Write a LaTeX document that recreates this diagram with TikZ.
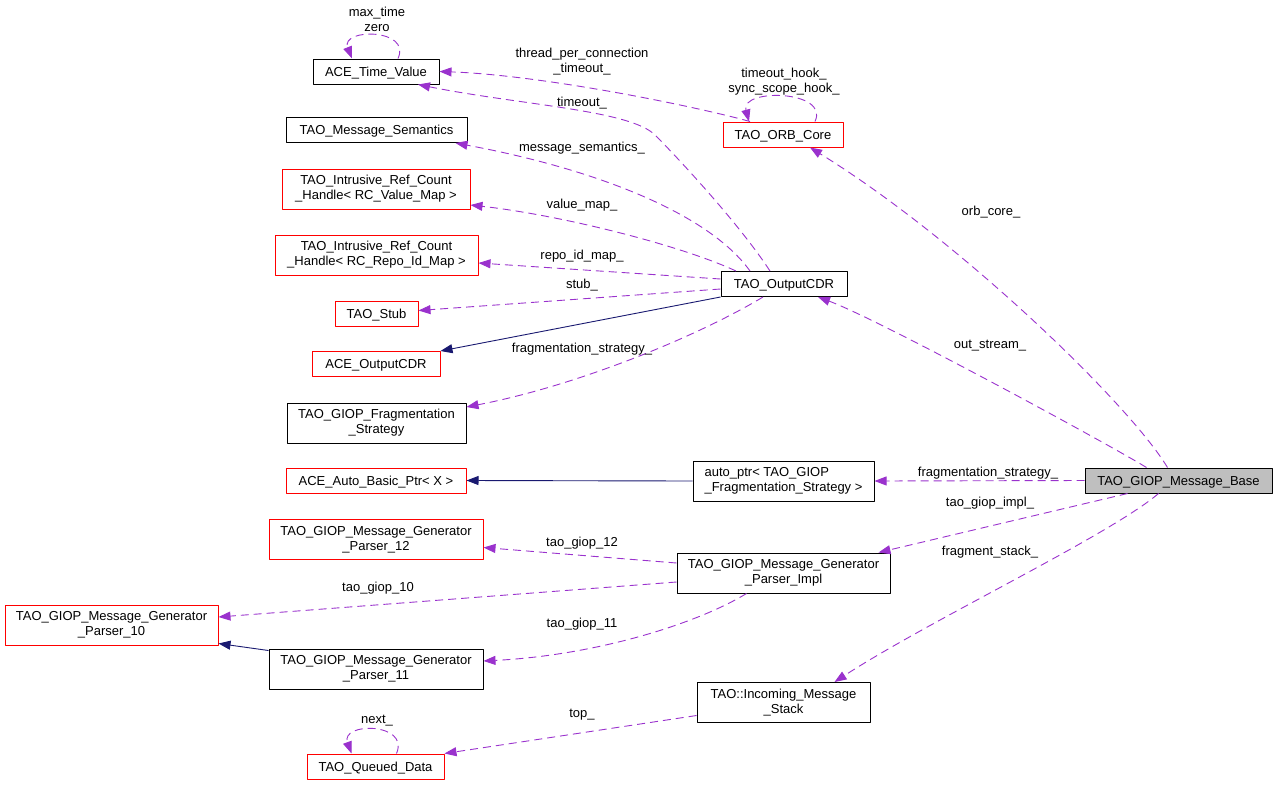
\documentclass[tikz,border=0pt]{standalone}
\usepackage{fontspec}
\setmainfont{Liberation Sans}
\usetikzlibrary{arrows.meta}
\definecolor{edgepurple}{HTML}{9A32CD}
\definecolor{edgenavy}{HTML}{191970}
\definecolor{boxgray}{HTML}{BFBFBF}
\begin{document}
\begin{tikzpicture}[x=1pt, y=-1pt, line join=round,
		cls/.style={draw=black, fill=white, line width=1pt, inner xsep=2pt, inner ysep=2pt, minimum height=25pt, text height=9.8pt, text depth=0pt, align=center, font=\fontsize{13}{15}\selectfont},
		redcls/.style={cls, draw=red},
		dbl/.style={minimum height=40pt, text height={}, text depth={}},
		lbl/.style={inner sep=0pt, align=center, font=\fontsize{13}{15}\selectfont},
		member/.style={draw=edgepurple, line width=0.9pt, dash pattern=on 8pt off 5pt, -{Triangle[length=12pt,width=9pt]}},
		base/.style={draw=edgenavy, line width=0.9pt, -{Triangle[length=12pt,width=9pt]}}]
		\useasboundingbox (0,0) rectangle (1277,785);
		% classes, left column
		\node[cls, minimum width=126pt] (tv) at (376,71.5) {ACE\_Time\_Value};
		\node[cls, minimum width=181pt] (ms) at (376.5,130) {TAO\_Message\_Semantics};
		\node[redcls, dbl, minimum width=188pt] (vmap) at (376,189) {TAO\_Intrusive\_Ref\_Count\\\_Handle< RC\_Value\_Map >};
		\node[redcls, dbl, minimum width=203pt] (rmap) at (376.5,255) {TAO\_Intrusive\_Ref\_Count\\\_Handle< RC\_Repo\_Id\_Map >};
		\node[redcls, minimum width=83pt] (stub) at (376.5,313.5) {TAO\_Stub};
		\node[redcls, minimum width=128pt] (acecdr) at (376,364) {ACE\_OutputCDR};
		\node[cls, dbl, minimum width=179pt] (frag) at (376.5,423) {TAO\_GIOP\_Fragmentation\\\_Strategy};
		\node[redcls, minimum width=180pt] (abp) at (376,480.5) {ACE\_Auto\_Basic\_Ptr< X >};
		\node[redcls, dbl, minimum width=214pt] (p12) at (376,539.5) {TAO\_GIOP\_Message\_Generator\\\_Parser\_12};
		\node[redcls, dbl, minimum width=213pt] (p10) at (111.5,625) {TAO\_GIOP\_Message\_Generator\\\_Parser\_10};
		\node[cls, dbl, minimum width=214pt] (p11) at (376,669) {TAO\_GIOP\_Message\_Generator\\\_Parser\_11};
		\node[redcls, minimum width=137pt] (qd) at (375.5,766.5) {TAO\_Queued\_Data};
		% classes, middle column
		\node[redcls, minimum width=120pt] (orb) at (783,134.5) {TAO\_ORB\_Core};
		\node[cls, minimum width=126pt] (cdr) at (784,284) {TAO\_OutputCDR};
		\node[cls, dbl, minimum width=181pt, align=left] (ap) at (783.5,481) {auto\_ptr< TAO\_GIOP\\\_Fragmentation\_Strategy >};
		\node[cls, dbl, minimum width=213pt] (impl) at (783.5,573) {TAO\_GIOP\_Message\_Generator\\\_Parser\_Impl};
		\node[cls, dbl, minimum width=173pt] (ims) at (783.5,702.5) {TAO::Incoming\_Message\\\_Stack};
		% the class itself
		\node[cls, fill=boxgray, minimum width=187pt] (mb) at (1178.5,480.5) {TAO\_GIOP\_Message\_Base};

		% members of TAO_GIOP_Message_Base
		\draw[member] ([xshift=-11pt]mb.north) .. controls (1130,405) and (960,240) .. ([xshift=27pt]orb.south);
		\draw[member] ([xshift=-32pt]mb.north) .. controls (1110,445) and (880,320) .. ([xshift=34pt]cdr.south);
		\draw[member] (mb.west) -- (ap.east);
		\draw[member] ([xshift=-51pt]mb.south) -- ([xshift=95pt]impl.north);
		\draw[member] ([xshift=-20pt]mb.south) .. controls (1110,535) and (930,620) .. ([xshift=51pt]ims.north);
		\node[lbl] (lorb) at (991,212) {orb\_core\_};
		\node[lbl] (lout) at (990,346) {out\_stream\_};
		\node[lbl] (lfs) at (988,473) {fragmentation\_strategy\_};
		\node[lbl] (limpl) at (990,503) {tao\_giop\_impl\_};
		\node[lbl] (lstack) at (990,552) {fragment\_stack\_};

		% TAO_ORB_Core
		\draw[member] ([xshift=-33pt]orb.north) .. controls (690,105) and (540,75) .. (tv.east);
		\draw[member] ([xshift=32pt]orb.north) .. controls (830,90) and (740,88) .. ([xshift=-34pt]orb.north);
		\node[lbl] (ltpc) at (582,62) {thread\_per\_connection\\\_timeout\_};
		\node[lbl] (lhook) at (784,82) {timeout\_hook\_\\sync\_scope\_hook\_};

		% ACE_Time_Value
		\draw[member] ([xshift=22pt]tv.north) .. controls (412,28) and (340,28) .. ([xshift=-24pt]tv.north);
		\node[lbl] (lzero) at (377,19.5) {max\_time\\zero};

		% TAO_OutputCDR
		\draw[member] ([xshift=-14pt]cdr.north) .. controls (740,225) and (680,160) .. (655,135) .. controls (630,110) and (520,105) .. ([xshift=42pt]tv.south);
		\draw[member] ([xshift=-34pt]cdr.north) .. controls (710,215) and (600,170) .. ([xshift=79pt]ms.south);
		\draw[member] ([xshift=-48pt]cdr.north) .. controls (680,245) and (560,215) .. ([yshift=-16pt]vmap.east);
		\draw[member] ([yshift=5pt]cdr.west) -- ([yshift=-8pt]rmap.east);
		\draw[member] ([yshift=-5pt]cdr.west) -- ([yshift=3pt]stub.east);
		\draw[base] (cdr.south west) -- (acecdr.north east);
		\draw[member] ([xshift=-21pt]cdr.south) .. controls (700,335) and (580,385) .. ([yshift=16pt]frag.east);
		\node[lbl] (ltime) at (582,103) {timeout\_};
		\node[lbl] (lsem) at (582,148) {message\_semantics\_};
		\node[lbl] (lvmap) at (582,205) {value\_map\_};
		\node[lbl] (lrmap) at (582,256) {repo\_id\_map\_};
		\node[lbl] (lstub) at (582,285) {stub\_};
		\node[lbl] (lfrag) at (582,349) {fragmentation\_strategy\_};

		% auto_ptr
		\draw[base] (ap.west) -- (abp.east);

		% TAO_GIOP_Message_Generator_Parser_Impl
		\draw[member] ([yshift=10pt]impl.west) -- ([yshift=-8pt]p12.east);
		\draw[member] ([yshift=-9pt]impl.west) -- ([yshift=8pt]p10.east);
		\draw[member] ([xshift=-37pt]impl.south) .. controls (700,622) and (600,655) .. ([yshift=8pt]p11.east);
		\draw[base] ([yshift=-2pt]p11.north west) -- ([yshift=2pt]p10.south east);
		\node[lbl] (l12) at (582,543) {tao\_giop\_12};
		\node[lbl] (l10) at (378,588) {tao\_giop\_10};
		\node[lbl] (l11) at (582,624) {tao\_giop\_11};

		% TAO::Incoming_Message_Stack and TAO_Queued_Data
		\draw[member] ([yshift=-13pt]ims.west) -- (qd.north east);
		\draw[member] ([xshift=21pt]qd.north) .. controls (410,722) and (340,722) .. ([xshift=-24pt]qd.north);
		\node[lbl] (ltop) at (582,715) {top\_};
		\node[lbl] (lnext) at (377,721) {next\_};
\end{tikzpicture}
\end{document}
